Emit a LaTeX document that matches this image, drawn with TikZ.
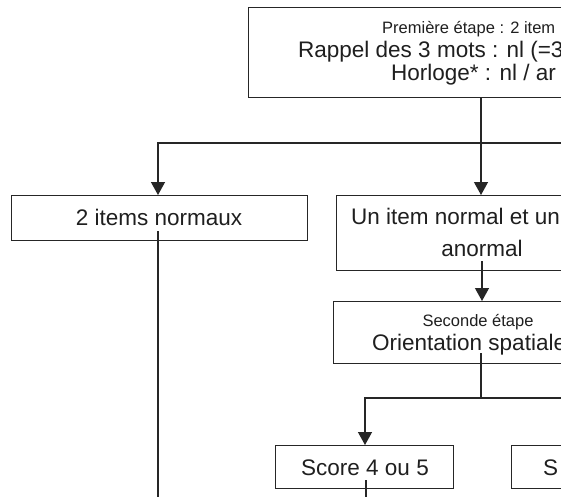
\documentclass[tikz,border=0pt]{standalone}
\usepackage{fontspec}
\setmainfont{Liberation Sans}
\usetikzlibrary{arrows.meta}
\begin{document}
\begin{tikzpicture}[x=1pt,y=-1pt,
  box/.style={draw=black!85, rectangle, inner sep=0pt, anchor=north west, line width=1.3pt},
  big/.style={font=\fontsize{22.5}{26}\selectfont, inner sep=0pt, text=black!88},
  small/.style={font=\fontsize{16.5}{19}\selectfont, inner sep=0pt, text=black!88},
  conn/.style={draw=black!85, line width=1.3pt},
  arr/.style={conn, -{Triangle[width=14pt,length=13pt]}}]
\useasboundingbox (0,0) rectangle (561,496);
\clip (0,0) rectangle (561,496);
\fill[white] (0,0) rectangle (561,496);
% boxes
\node[box, minimum width=400pt, minimum height=90pt] (top) at (248,7) {};
\node[box, minimum width=296pt, minimum height=45pt] (b2) at (11,195) {};
\node[box, minimum width=300pt, minimum height=75pt] (b3) at (336,195) {};
\node[box, minimum width=300pt, minimum height=62pt] (b4) at (333,301) {};
\node[box, minimum width=178pt, minimum height=43pt] (b5) at (275,445) {};
\node[box, minimum width=120pt, minimum height=43pt] (b6) at (511,445) {};
% texts
\node[small, anchor=base west] (t1a) at (382,33) {Première étape : 2 item};
\node[big, anchor=base west] (t1b) at (298,57) {Rappel des 3 mots : nl (=3};
\node[big, anchor=base west] (t1c) at (391,80) {Horloge* : nl / ar};
\node[big, anchor=base] (t2) at (159,225) {2 items normaux};
\node[big, anchor=base west] (t3a) at (351,224) {Un item normal et un};
\node[big, anchor=base] (t3b) at (482,256) {anormal};
\node[small, anchor=base] (t4a) at (478,326) {Seconde étape};
\node[big, anchor=base west] (t4b) at (372,350) {Orientation spatiale};
\node[big, anchor=base] (t5) at (365,475) {Score 4 ou 5};
\node[big, anchor=base west] (t6) at (543,475) {S};
% coordinates
\coordinate (s1) at (481,143);
\coordinate (L1) at (158,143);
\coordinate (R1) at (620,143);
\coordinate (d2) at (158,530);
\coordinate (s2) at (481,398);
\coordinate (L2) at (365,398);
\coordinate (R2) at (620,398);
\coordinate (d5) at (366,530);
% connectors
\draw[arr] (top.south -| s1) -- (b3.north -| s1);
\draw[arr] (R1) -- (L1) -- (b2.north -| L1);
\draw[conn] ([yshift=-6pt]t2.base -| L1) -- (d2);
\draw[arr] ([yshift=-5pt]t3b.base) -- (b4.north -| t3b.base);
\draw[conn] ([yshift=-3pt]t4b.base -| s2) -- (s2);
\draw[arr] (R2) -- (L2) -- (b5.north -| L2);
\draw[conn] ([yshift=-5pt]t5.base -| d5) -- (d5);
\end{tikzpicture}
\end{document}
